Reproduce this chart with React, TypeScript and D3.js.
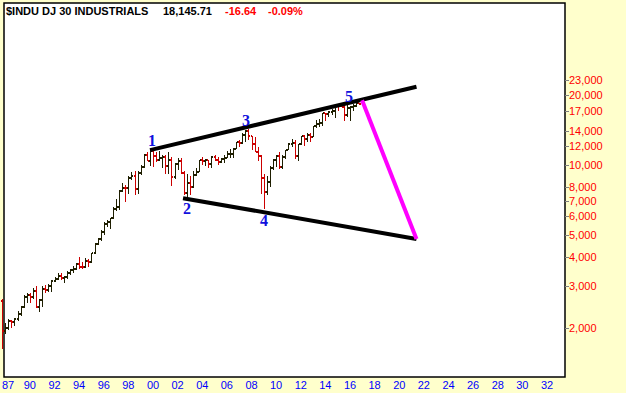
import * as d3 from "d3";

// Quarterly OHLC for $INDU, first bar = 1987 Q4
const FIRST_QUARTER = 1987.75;
const OPEN = [
  2596, 1938.8, 1988.1, 2141.7, 2112.9, 2168.6, 2293.6, 2440.1, 2692.8, 2753.2, 2707.2, 2880.7, 2452.5,
  2633.7, 2913.9, 2906.8, 3016.8, 3168.8, 3235.5, 3318.5, 3271.7, 3301.1, 3435.1, 3516.1, 3555.1,
  3754.1, 3635.9, 3625.0, 3843.2, 3834.4, 4157.7, 4556.1, 4789.1, 5117.1, 5587.1, 5654.6, 5882.2,
  6448.3, 6583.5, 7672.8, 7945.3, 7908.3, 8799.8, 8952.0, 7842.6, 9181.4, 9786.2, 10970.8, 10336.9,
  11497.1, 10921.9, 10447.9, 10650.9, 10788.0, 9878.8, 10502.4, 8847.6, 10021.5, 10403.9, 9243.3, 7591.9,
  8341.6, 7992.1, 8985.4, 9275.1, 10453.9, 10357.7, 10435.5, 10080.3, 10783.0, 10503.8, 10275.0, 10568.7,
  10717.5, 11109.3, 11150.2, 11679.1, 12463.2, 12354.4, 13408.6, 13895.6, 13264.8, 12262.9, 11350.0, 10850.7,
  8776.4, 7608.9, 8447.0, 9712.3, 10428.1, 10856.6, 9774.0, 10788.1, 11577.5, 12319.7, 12414.3, 10913.4,
  12217.6, 13212.0, 12880.1, 13437.1, 13104.1, 14578.5, 14909.6, 15129.7, 16576.7, 16457.7, 16826.6, 17042.9,
  17823.1, 17776.1, 17619.5, 16284.7, 17425.0, 17685.1, 17930.0, 18308.2,
];
const HIGH = [
  2662, 2100, 2170, 2160, 2200, 2350, 2470, 2750, 2800, 2800, 2950, 3024, 2650,
  3000, 3050, 3070, 3200, 3300, 3440, 3420, 3340, 3500, 3580, 3660, 3800,
  4000, 3830, 3980, 3950, 4180, 4600, 4840, 5220, 5700, 5800, 5930, 6600,
  7100, 7800, 8300, 8200, 8900, 9300, 9370, 9400, 10000, 11100, 11350, 11650,
  11750, 11350, 11400, 11000, 11030, 11350, 10800, 10200, 10700, 10670, 9400, 9100,
  8900, 9400, 9700, 10500, 10750, 10600, 10450, 10900, 10980, 10800, 10720, 11000,
  11400, 11700, 11750, 12550, 12800, 13700, 14050, 14200, 13300, 13200, 11900, 11000,
  9100, 8900, 9900, 10580, 10950, 11300, 10950, 11600, 12400, 12900, 12750, 12300,
  13300, 13340, 13660, 13660, 14600, 15550, 15700, 16600, 16600, 16980, 17350, 18100,
  18290, 18350, 18140, 17980, 17790, 18170, 18670, 18400,
];
const LOW = [
  1616, 1879, 1950, 2000, 2030, 2140, 2250, 2430, 2550, 2540, 2640, 2430, 2340,
  2450, 2800, 2850, 2830, 3130, 3200, 3200, 3100, 3230, 3350, 3430, 3520,
  3550, 3550, 3600, 3620, 3800, 4130, 4500, 4680, 5000, 5400, 5300, 5850,
  6350, 6360, 7600, 6930, 7500, 8600, 7380, 7470, 9000, 9700, 10400, 9880,
  9730, 10300, 10400, 9650, 9100, 9100, 8060, 8700, 9500, 9100, 7400, 7180,
  7400, 7900, 8900, 9300, 10000, 9900, 9700, 9700, 10350, 10000, 10150, 10150,
  10650, 10700, 10700, 11650, 11950, 12300, 12500, 12700, 11600, 11280, 10400, 7450,
  6470, 7400, 8000, 9500, 9800, 9600, 9600, 10600, 11500, 11850, 10600, 10400,
  12100, 12030, 12500, 12470, 13100, 14400, 14550, 14700, 15340, 15950, 16330, 15850,
  17040, 17600, 15370, 15940, 15450, 17060, 17710, 18000,
];
const CLOSE = [
  1938.8, 1988.1, 2141.7, 2112.9, 2168.6, 2293.6, 2440.1, 2692.8, 2753.2, 2707.2, 2880.7, 2452.5, 2633.7,
  2913.9, 2906.8, 3016.8, 3168.8, 3235.5, 3318.5, 3271.7, 3301.1, 3435.1, 3516.1, 3555.1, 3754.1,
  3635.9, 3625.0, 3843.2, 3834.4, 4157.7, 4556.1, 4789.1, 5117.1, 5587.1, 5654.6, 5882.2, 6448.3,
  6583.5, 7672.8, 7945.3, 7908.3, 8799.8, 8952.0, 7842.6, 9181.4, 9786.2, 10970.8, 10336.9, 11497.1,
  10921.9, 10447.9, 10650.9, 10788.0, 9878.8, 10502.4, 8847.6, 10021.5, 10403.9, 9243.3, 7591.9, 8341.6,
  7992.1, 8985.4, 9275.1, 10453.9, 10357.7, 10435.5, 10080.3, 10783.0, 10503.8, 10275.0, 10568.7, 10717.5,
  11109.3, 11150.2, 11679.1, 12463.2, 12354.4, 13408.6, 13895.6, 13264.8, 12262.9, 11350.0, 10850.7, 8776.4,
  7608.9, 8447.0, 9712.3, 10428.1, 10856.6, 9774.0, 10788.1, 11577.5, 12319.7, 12414.3, 10913.4, 12217.6,
  13212.0, 12880.1, 13437.1, 13104.1, 14578.5, 14909.6, 15129.7, 16576.7, 16457.7, 16826.6, 17042.9, 17823.1,
  17776.1, 17619.5, 16284.7, 17425.0, 17685.1, 17930.0, 18308.2, 18145.71,
];

const PRICE_TICKS = [2000, 3000, 4000, 5000, 6000, 7000, 8000, 10000, 12000, 14000, 17000, 20000, 23000];
const YEAR_TICKS = [1987, 1990, 1992, 1994, 1996, 1998, 2000, 2002, 2004, 2006, 2008, 2010, 2012, 2014, 2016, 2018, 2020, 2022, 2024, 2026, 2028, 2030, 2032];
const YEAR_LABELS = ["87", "90", "92", "94", "96", "98", "00", "02", "04", "06", "08", "10", "12", "14", "16", "18", "20", "22", "24", "26", "28", "30", "32"];

// trend lines, [year, price]
const TRENDLINES = [
  { from: [1999.76, 11540], to: [2021.4, 21600], color: "#000000" },
  { from: [2002.44, 7180], to: [2021.4, 4800], color: "#000000" },
  { from: [2016.98, 18900], to: [2021.4, 4800], color: "#ff00ff" },
];
const WAVES = [
  { label: "1", year: 1999.92, price: 11990 },
  { label: "2", year: 2002.76, price: 6140 },
  { label: "3", year: 2007.55, price: 14600 },
  { label: "4", year: 2009.02, price: 5460 },
  { label: "5", year: 2015.92, price: 18480 },
];

const HEADER = [
  { text: "$INDU DJ 30 INDUSTRIALS", x: 6, color: "#000" },
  { text: "18,145.71", x: 163, color: "#000" },
  { text: "-16.64", x: 225, color: "#ff0000" },
  { text: "-0.09%", x: 268, color: "#ff0000" },
];

export default function App() {
  const W = 626, H = 393;
  const box = { left: 4, top: 3, right: 565, bottom: 377 };

  const x = d3.scaleLinear().domain([2000, 2032]).range([153, 547]);
  const y = d3.scaleLog().domain([2000, 20000]).range([327.5, 94.5]);
  const fmt = d3.format(",");
  const line = d3.line<number[]>().x((d) => x(d[0])).y((d) => y(d[1]));

  const sans = "'Liberation Sans', Arial, sans-serif";

  return (
    <svg width={W} height={H} style={{ position: "absolute", left: 0, top: 0, display: "block" }}>
      <rect width={W} height={H} fill="#ffffcc" />
      <rect x={box.left} y={box.top} width={box.right - box.left} height={box.bottom - box.top} fill="#fff" stroke="#000" strokeWidth={1.5} />

      {HEADER.map((h) => (
        <text key={h.text} x={h.x} y={15} fontFamily={sans} fontWeight="bold" fontSize={11} fill={h.color}>{h.text}</text>
      ))}

      {/* price bars */}
      <g shapeRendering="crispEdges">
        {CLOSE.map((c, i) => {
          const t = FIRST_QUARTER + i * 0.25;
          const bx = Math.round(x(t)) + 0.5;
          const col = c < OPEN[i] ? "#cc0000" : "#1e1e00";
          const yo = Math.round(y(OPEN[i]));
          const yc = Math.round(y(c));
          return (
            <g key={i} fill={col}>
              <rect x={bx - 0.5} y={y(HIGH[i])} width={1} height={y(LOW[i]) - y(HIGH[i])} />
              <rect x={bx - 1.5} y={yo - 1} width={1} height={2} />
              <rect x={bx + 0.5} y={yc - 1} width={1} height={2} />
            </g>
          );
        })}
      </g>

      {TRENDLINES.map((l, i) => (
        <path key={i} d={line([l.from, l.to]) ?? ""} stroke={l.color} strokeWidth={4} fill="none" strokeLinecap="butt" />
      ))}

      {WAVES.map((w) => (
        <text key={w.label} x={x(w.year)} y={y(w.price)} textAnchor="middle" fontFamily="'Liberation Serif', 'Times New Roman', serif" fontWeight="bold" fontSize={16} fill="#1010dd">{w.label}</text>
      ))}

      {/* right price axis */}
      {PRICE_TICKS.map((p) => (
        <g key={p} transform={`translate(${box.right},${Math.round(y(p)) + 0.5})`}>
          <line x1={0} x2={4} stroke="#808080" />
          <text x={4} dy="0.35em" fontFamily={sans} fontSize={11} fill="#ff0000">{fmt(p)}</text>
        </g>
      ))}

      {/* bottom year axis */}
      {YEAR_TICKS.map((yr, i) => (
        <text key={yr} x={Math.max(box.left + 4, x(yr))} y={389} textAnchor="middle" fontFamily={sans} fontSize={11} fill="#0000ff">{YEAR_LABELS[i]}</text>
      ))}
    </svg>
  );
}
